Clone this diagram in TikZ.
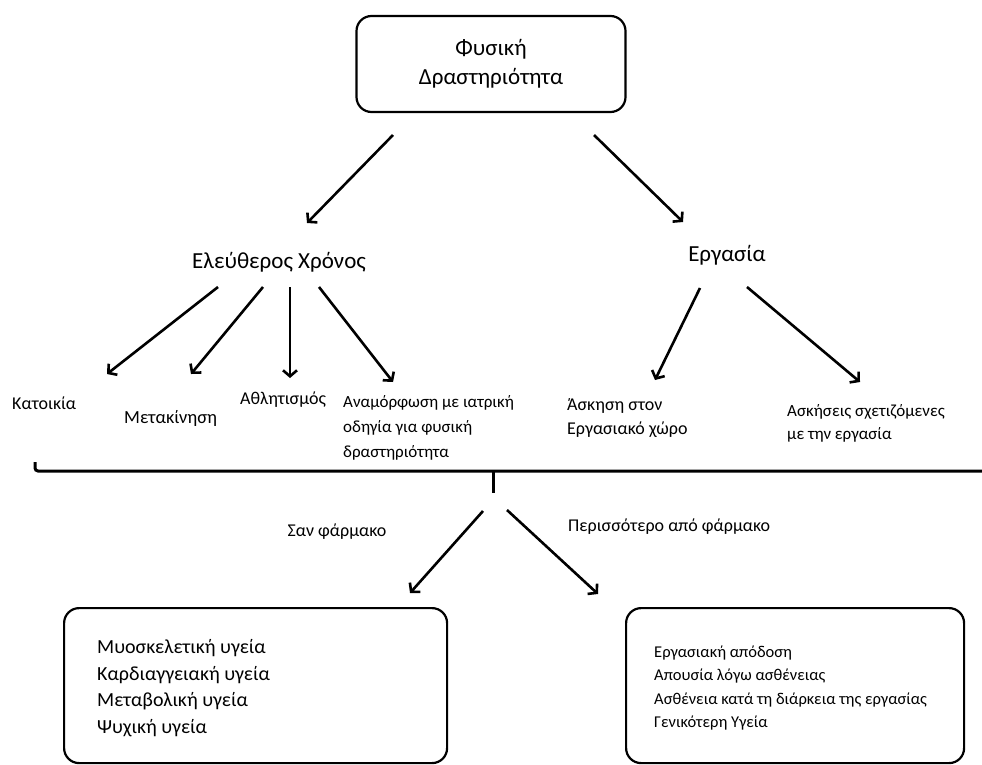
\documentclass[tikz,border=0pt]{standalone}
\usepackage{fontspec}
\setmainfont{Carlito}
\usetikzlibrary{arrows.meta}

\begin{document}
\begin{tikzpicture}[x=1pt,y=-1pt,arr/.style={line width=2.6pt,-{Straight Barb[length=6pt,width=14pt]}},
box/.style={draw,line width=2.2pt,rounded corners=15pt},
lbl/.style={inner sep=0pt,align=left,font=\fontsize{17.5}{24}\selectfont}]
\useasboundingbox (0,0) rectangle (982,764);
\node [box,align=center,minimum width=269pt,minimum height=96pt,font=\fontsize{23}{29}\selectfont] (phys) at (491,64) {Φυσική\\Δραστηριότητα};
\node [font=\fontsize{23}{26}\selectfont] (leisure) at (279,262) {Ελεύθερος Χρόνος};
\node [font=\fontsize{23}{26}\selectfont] (work) at (727,255) {Εργασία};
\node [lbl,anchor=west,font=\fontsize{18}{24}\selectfont] (home) at (12,403) {Κατοικία};
\node [lbl,anchor=west,font=\fontsize{18.5}{24}\selectfont] (commute) at (124,418) {Μετακίνηση};
\node [lbl,anchor=west,font=\fontsize{18}{24}\selectfont] (sport) at (240,400) {Αθλητισμός};
\node [lbl,anchor=west,font=\fontsize{17}{25}\selectfont] (rehab) at (343,428) {Αναμόρφωση με ιατρική\\οδηγία για φυσική\\δραστηριότητα};
\node [lbl,anchor=west,font=\fontsize{18}{24}\selectfont] (wpex) at (567,418) {Άσκηση στον\\Εργασιακό χώρο};
\node [lbl,anchor=west,font=\fontsize{17}{23}\selectfont] (wrex) at (787,423) {Ασκήσεις σχετιζόμενες\\ με την εργασία};
\node [lbl,font=\fontsize{18}{20}\selectfont] (drug) at (337,532) {Σαν φάρμακο};
\node [lbl,anchor=west,font=\fontsize{18}{20}\selectfont] (more) at (568,527) {Περισσότερο από φάρμακο};
\node [box,anchor=north west,minimum width=383pt,minimum height=155pt] (health) at (63,607) {};
\node [lbl,anchor=west,font=\fontsize{20}{26.6}\selectfont] (health-text) at (97,688) {Μυοσκελετική υγεία\\Καρδιαγγειακή υγεία\\Μεταβολική υγεία\\Ψυχική υγεία};
\node [box,anchor=north west,minimum width=338pt,minimum height=155pt] (perf) at (625,607) {};
\node [lbl,anchor=west,font=\fontsize{16.5}{23.5}\selectfont] (perf-text) at (654,688) {Εργασιακή απόδοση\\Απουσία λόγω ασθένειας\\Ασθένεια κατά τη διάρκεια της εργασίας\\Γενικότερη Υγεία};
\coordinate (phys-l) at (393,135);
\coordinate (phys-r) at (594,135);
\coordinate (leisure-in) at (307,223);
\coordinate (work-in) at (683,222);
\coordinate (home-in) at (107,374);
\coordinate (commute-in) at (191,374);
\coordinate (sport-in) at (290,378);
\coordinate (rehab-in) at (393,382);
\coordinate (wpex-in) at (655,380);
\coordinate (wrex-in) at (860,382);
\coordinate (brace-l) at (35,462);
\coordinate (brace-r) at (990,471);
\coordinate (brace-m) at (493,471);
\coordinate (brace-tip) at (493,493);
\coordinate (drug-out) at (483,511);
\coordinate (more-out) at (507,510);
\coordinate (health-in) at (410,593);
\coordinate (perf-in) at (598,594);
\draw [arr] (phys-l) -- (leisure-in);
\draw [arr] (phys-r) -- (work-in);
\draw [arr] (218,287) -- (home-in);
\draw [arr] (263,287) -- (commute-in);
\draw [arr] (290,287) -- (sport-in);
\draw [arr] (319,287) -- (rehab-in);
\draw [arr] (700,288) -- (wpex-in);
\draw [arr] (747,287) -- (wrex-in);
\draw [line width=3pt,rounded corners=3pt] (brace-l) -- (35,471) -- (brace-r);
\draw [line width=3pt] (brace-m) -- (brace-tip);
\draw [arr] (drug-out) -- (health-in);
\draw [arr] (more-out) -- (perf-in);
\end{tikzpicture}
\end{document}
